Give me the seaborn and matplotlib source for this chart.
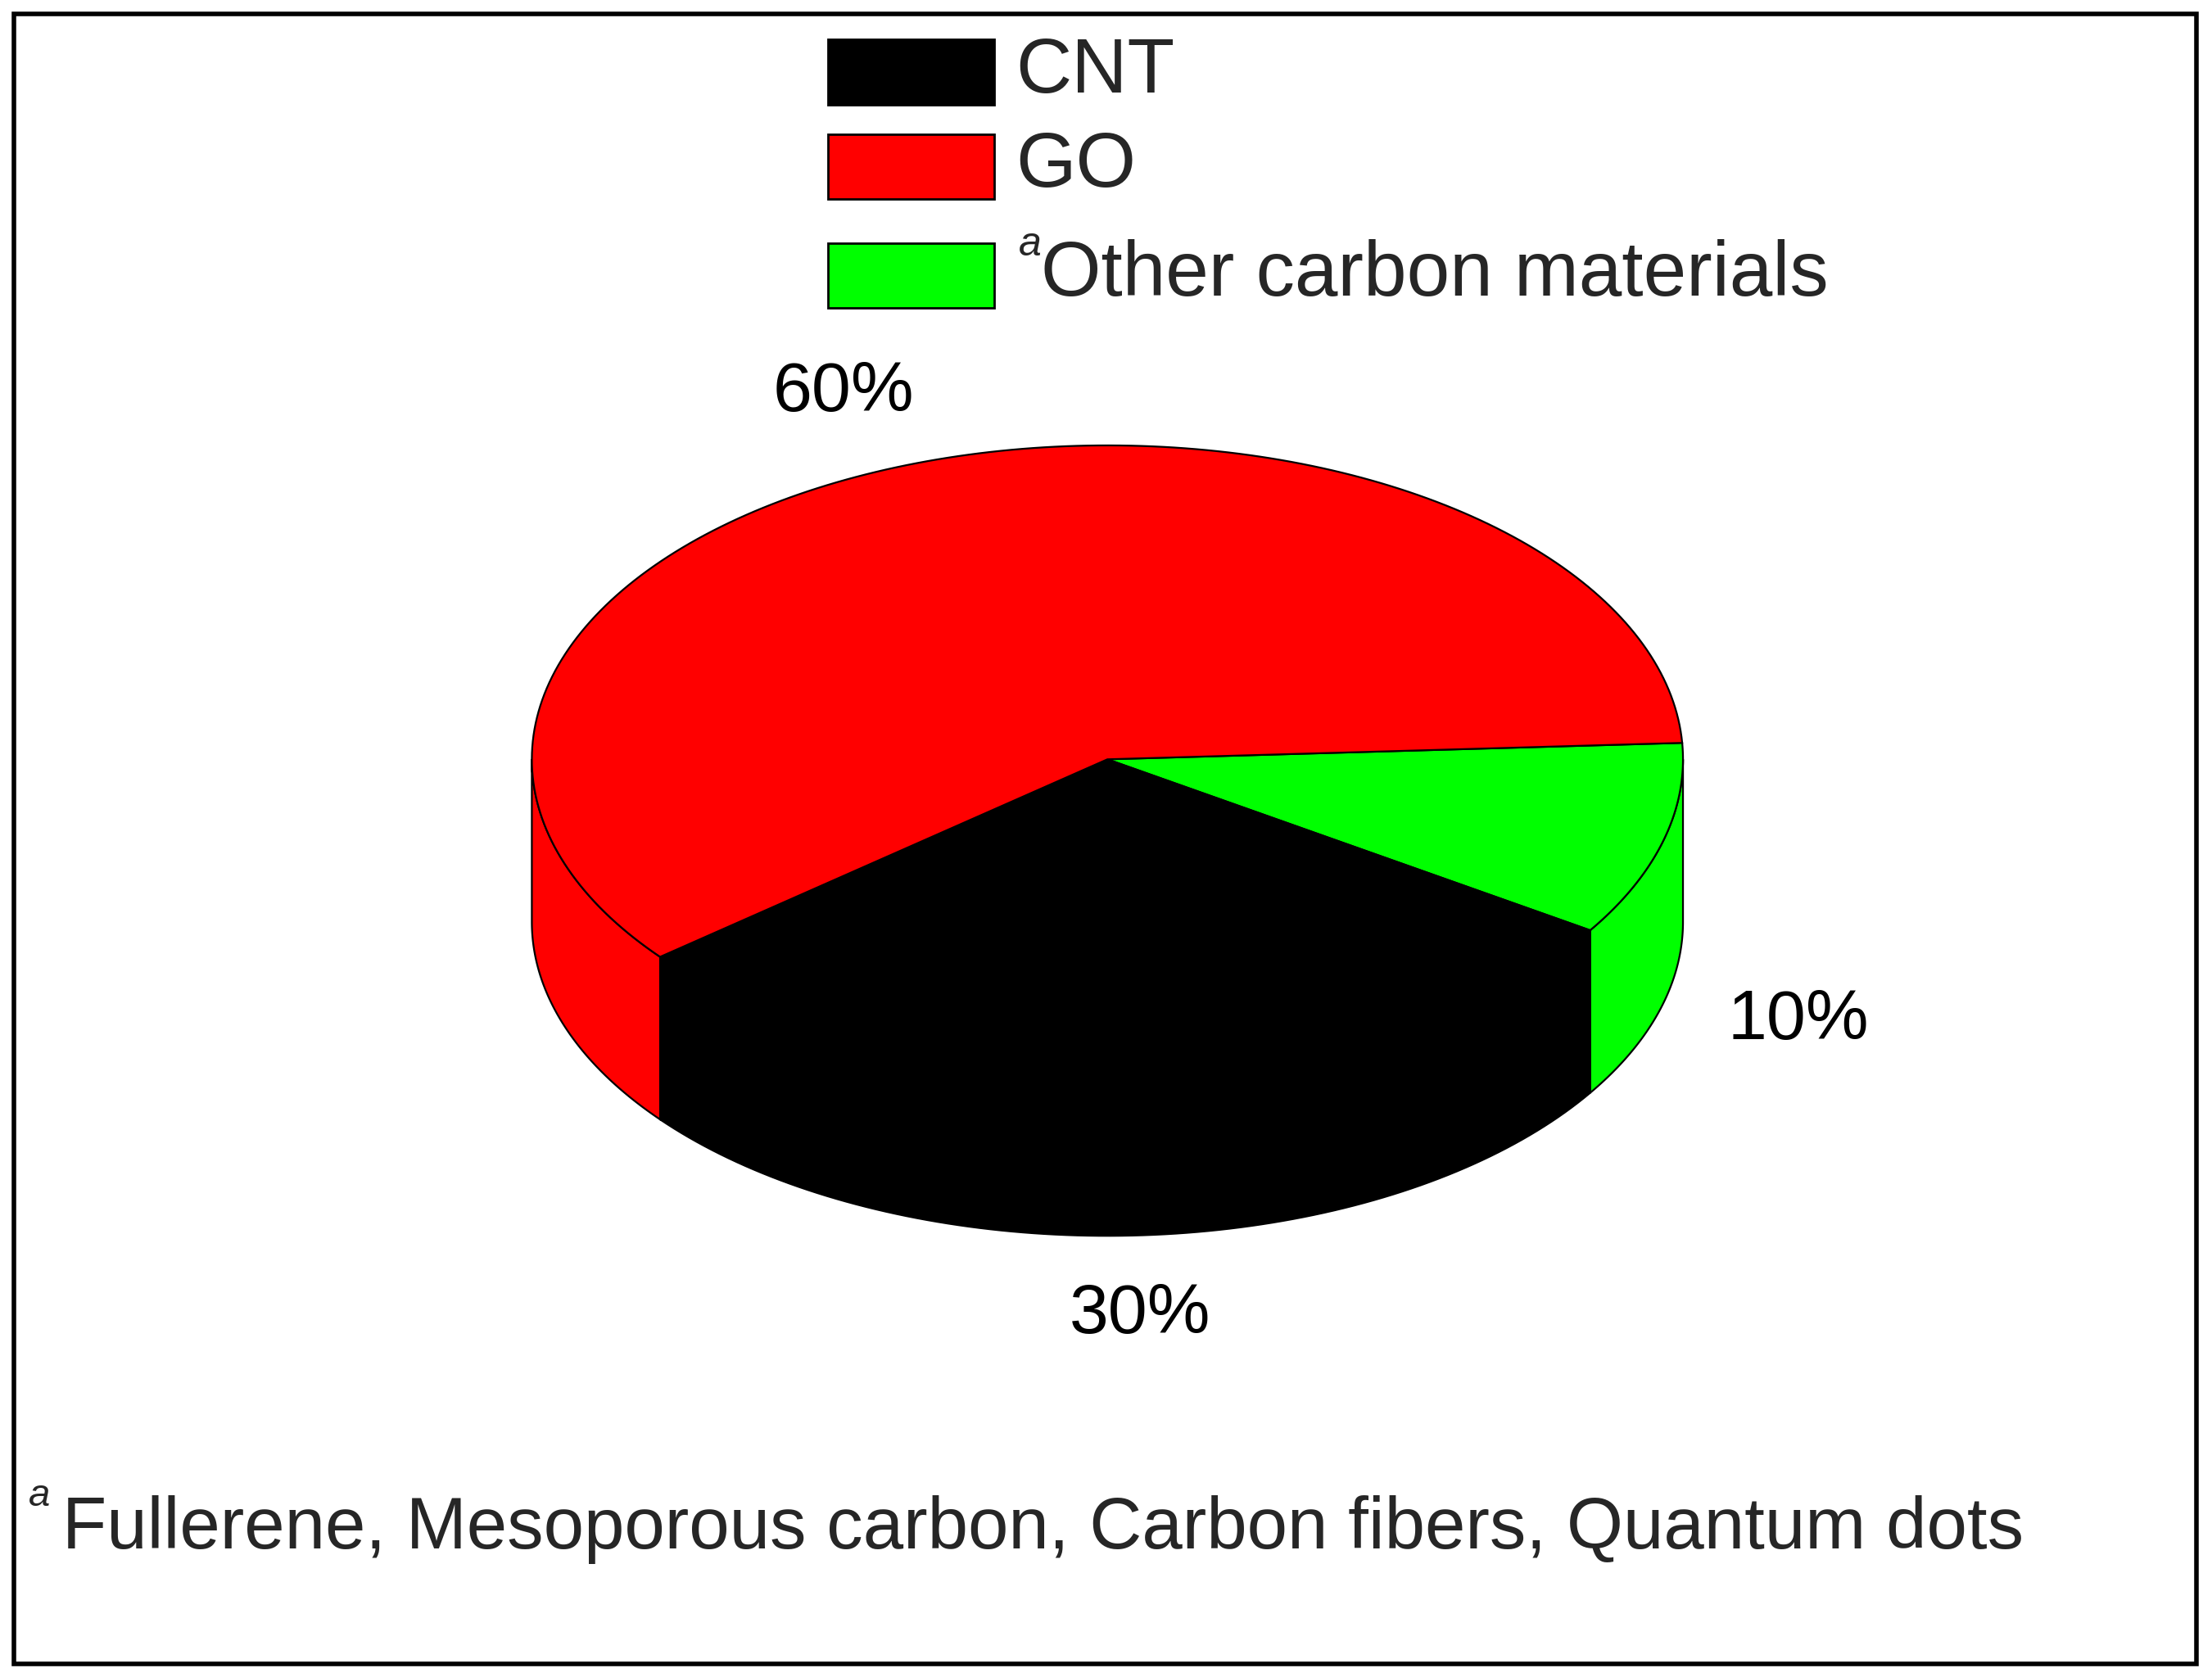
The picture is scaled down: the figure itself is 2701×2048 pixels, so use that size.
import numpy as np
import matplotlib.pyplot as plt
import seaborn as sns
from matplotlib.patches import Polygon, Rectangle

sns.set_theme(style="white")
plt.rcParams['font.family'] = ['Liberation Sans', 'DejaVu Sans']

# data
categories = ["CNT", "GO", "Other carbon materials"]
shares = [30, 60, 10]
pct_labels = ["30%", "60%", "10%"]
colors = ["#000000", "#ff0000", "#00ff00"]
footnote = "Fullerene, Mesoporous carbon, Carbon fibers, Quantum dots"

# pie geometry (canvas units, y pointing down)
cx, cy, rx, ry, depth = 785, 537, 408, 222, 115
start_deg = 3  # where "Other" begins, slices go clockwise

fig = plt.figure(figsize=(13.505, 10.24), dpi=200)
ax = fig.add_axes([0, 0, 1, 1])
ax.set_xlim(0, 1568)
ax.set_ylim(1186, 0)
ax.axis("off")
ax.add_patch(Rectangle((10, 10), 1547, 1167, fill=False, ec="black", lw=2))


def pt(a, dy=0):
    r = np.radians(a)
    return cx + rx * np.cos(r), cy - ry * np.sin(r) + dy


# slice angle ranges in draw order: Other, CNT, GO (clockwise)
order = [2, 0, 1]
ranges = {}
a0 = start_deg
for i in order:
    a1 = a0 - shares[i] / sum(shares) * 360
    ranges[i] = (a1, a0)
    a0 = a1

# side walls (front half: angles between -180 and 0, modulo 360)
for i in order:
    lo, hi = ranges[i]
    for shift in (0, 360, -360):
        s, e = max(lo + shift, -180), min(hi + shift, 0)
        if e > s:
            angs = np.linspace(s, e, 100)
            top = [pt(a) for a in angs]
            bot = [pt(a, depth) for a in angs[::-1]]
            ax.add_patch(Polygon(top + bot, closed=True, fc=colors[i], ec="black", lw=0.8))

# top faces
for i in order:
    lo, hi = ranges[i]
    angs = np.linspace(lo, hi, 200)
    poly = [(cx, cy)] + [pt(a) for a in angs]
    ax.add_patch(Polygon(poly, closed=True, fc=colors[i], ec="black", lw=0.8))

# percentage labels
label_pos = {1: (598, 278), 0: (808, 930), 2: (1275, 722)}
for i, (x, y) in label_pos.items():
    ax.text(x, y, pct_labels[i], ha="center", va="center", fontsize=31, color="black")

# legend
leg_y = [51, 118, 195]
for i, y in zip([0, 1, 2], leg_y):
    ax.add_patch(Rectangle((587, y - 23), 118, 46, fc=colors[i], ec="black", lw=1))
    if i == 2:
        ax.text(722, y - 22, "a", fontsize=18, style="italic", va="center")
        ax.text(738, y, categories[i], fontsize=34, va="center")
    else:
        ax.text(720, y, categories[i], fontsize=34, va="center")

# footnote
ax.text(20, 1058, "a", fontsize=17, style="italic", va="center")
ax.text(44, 1082, footnote, fontsize=32, va="center")

fig.savefig("out.png", dpi=200, facecolor="white")
